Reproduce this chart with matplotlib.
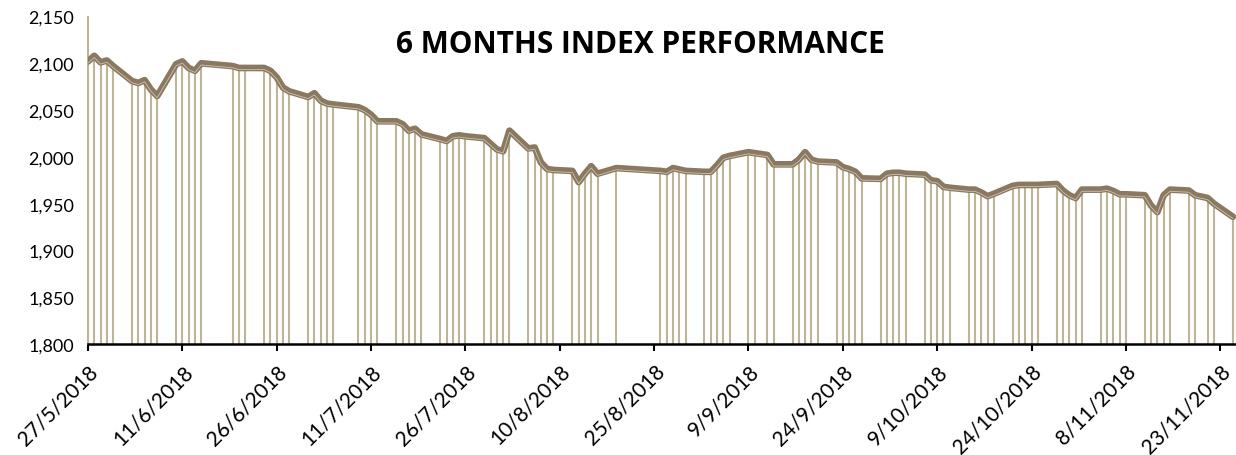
import matplotlib
matplotlib.use("Agg")
import matplotlib.pyplot as plt
import numpy as np
import pandas as pd

# ---- data -------------------------------------------------------------
trade_dates = [
    "2018-05-27", "2018-05-28", "2018-05-29", "2018-05-30", "2018-05-31",
    "2018-06-03", "2018-06-04", "2018-06-05", "2018-06-06", "2018-06-07",
    "2018-06-10", "2018-06-11", "2018-06-12", "2018-06-13", "2018-06-14",
    "2018-06-19", "2018-06-20", "2018-06-21",
    "2018-06-24", "2018-06-25", "2018-06-26", "2018-06-27", "2018-06-28",
    "2018-07-01", "2018-07-02", "2018-07-03", "2018-07-04", "2018-07-05",
    "2018-07-09", "2018-07-10", "2018-07-11", "2018-07-12",
    "2018-07-15", "2018-07-16", "2018-07-17", "2018-07-18", "2018-07-19",
    "2018-07-22", "2018-07-23", "2018-07-24", "2018-07-25", "2018-07-26",
    "2018-07-29", "2018-07-30", "2018-07-31", "2018-08-01", "2018-08-02",
    "2018-08-05", "2018-08-06", "2018-08-07", "2018-08-08", "2018-08-09",
    "2018-08-12", "2018-08-13", "2018-08-14", "2018-08-15", "2018-08-16",
    "2018-08-19",
    "2018-08-26", "2018-08-27", "2018-08-28", "2018-08-29", "2018-08-30",
    "2018-09-02", "2018-09-03", "2018-09-04", "2018-09-05", "2018-09-06",
    "2018-09-09", "2018-09-10", "2018-09-12", "2018-09-13",
    "2018-09-16", "2018-09-17", "2018-09-18", "2018-09-19", "2018-09-20",
    "2018-09-23", "2018-09-24", "2018-09-25", "2018-09-26", "2018-09-27",
    "2018-09-30", "2018-10-01", "2018-10-02", "2018-10-03", "2018-10-04",
    "2018-10-07", "2018-10-08", "2018-10-09", "2018-10-10", "2018-10-11",
    "2018-10-14", "2018-10-15", "2018-10-16", "2018-10-17", "2018-10-18",
    "2018-10-21", "2018-10-22", "2018-10-23", "2018-10-24", "2018-10-25",
    "2018-10-28", "2018-10-29", "2018-10-30", "2018-10-31", "2018-11-01",
    "2018-11-04", "2018-11-05", "2018-11-06", "2018-11-07", "2018-11-08",
    "2018-11-11", "2018-11-12", "2018-11-13", "2018-11-14", "2018-11-15",
    "2018-11-18", "2018-11-19", "2018-11-21", "2018-11-22",
    "2018-11-25",
]

index_values = [
    2102, 2108, 2101, 2103, 2097,
    2081, 2079, 2082, 2072, 2065,
    2099, 2102, 2095, 2092, 2100,
    2097, 2095, 2095,
    2095, 2092, 2085, 2074, 2070,
    2064, 2068, 2060, 2057, 2056,
    2053, 2050, 2045, 2038,
    2038, 2035, 2028, 2030, 2024,
    2019, 2017, 2022, 2023, 2022,
    2020, 2014, 2008, 2006, 2028,
    2009, 2010, 1994, 1987, 1986,
    1985, 1973, 1982, 1990, 1982,
    1988,
    1985, 1984, 1988, 1986.5, 1985,
    1984, 1984, 1991, 1999, 2001,
    2005, 2004, 2002, 1992,
    1992, 1997, 2005, 1997, 1995,
    1994, 1989, 1987, 1984, 1977,
    1976.5, 1982, 1983, 1983, 1982,
    1981, 1975, 1974, 1968, 1967,
    1965, 1965, 1962, 1958, 1960.5,
    1969, 1970, 1970, 1970, 1970,
    1971, 1964, 1959, 1956, 1965,
    1965, 1966, 1963.5, 1960, 1960,
    1959, 1948, 1941, 1959, 1965,
    1964, 1959, 1956, 1950,
    1936,
]

tick_dates = ["2018-05-27", "2018-06-11", "2018-06-26", "2018-07-11", "2018-07-26",
              "2018-08-10", "2018-08-25", "2018-09-09", "2018-09-24", "2018-10-09",
              "2018-10-24", "2018-11-08", "2018-11-23"]
tick_labels = ["27/5/2018", "11/6/2018", "26/6/2018", "11/7/2018", "26/7/2018",
               "10/8/2018", "25/8/2018", "9/9/2018", "24/9/2018", "9/10/2018",
               "24/10/2018", "8/11/2018", "23/11/2018"]
y_ticks = [1800, 1850, 1900, 1950, 2000, 2050, 2100, 2150]
title_text = "6 MONTHS INDEX PERFORMANCE"

# ---- figure -----------------------------------------------------------
W, H = 1236, 456
fig = plt.figure(figsize=(W / 100, H / 100), dpi=100)
ax = fig.add_axes([88 / W, 1 - 345 / H, 1 - 88 / W, (345 - 17.5) / H])

x = pd.to_datetime(trade_dates)
y = np.array(index_values, dtype=float)

line_col = "#8a7860"
drop_col = "#bdb597"
inner_col = "#e2dccd"

ax.vlines(x, 1800, y, color=drop_col, lw=1.5, zorder=2)
ax.plot(x, y, color=line_col, lw=4.8, solid_joinstyle="round",
        solid_capstyle="round", zorder=3)
ax.plot(x, y - 1.8, color=inner_col, lw=0.6, zorder=4, alpha=0.75)

x0 = pd.Timestamp("2018-05-27")
x1 = pd.Timestamp("2018-11-25") + pd.Timedelta(hours=12)
ax.set_xlim(x0, x1)
ax.set_ylim(1800, 2150)

ax.set_yticks(y_ticks)
ax.set_yticklabels([f"{v:,}" for v in y_ticks], fontsize=13, family="Lato")
ax.tick_params(axis="y", length=0, pad=10)

ax.set_xticks(pd.to_datetime(tick_dates))
ax.set_xticklabels(tick_labels, rotation=45, ha="right", va="top",
                   rotation_mode="anchor", fontsize=15, family="Lato")
ax.tick_params(axis="x", length=5, width=1.5, color="black", pad=7)

for s in ["top", "right"]:
    ax.spines[s].set_visible(False)
ax.spines["bottom"].set_color("black")
ax.spines["bottom"].set_linewidth(1.8)
ax.spines["bottom"].set_zorder(5)
ax.spines["left"].set_color(drop_col)
ax.spines["left"].set_linewidth(1.5)

fig.text(640 / W, 1 - 45 / H, title_text, ha="center", va="center",
         fontsize=21.5, fontweight="bold", family="Open Sans", color="black")

fig.savefig("out.png", dpi=100)
